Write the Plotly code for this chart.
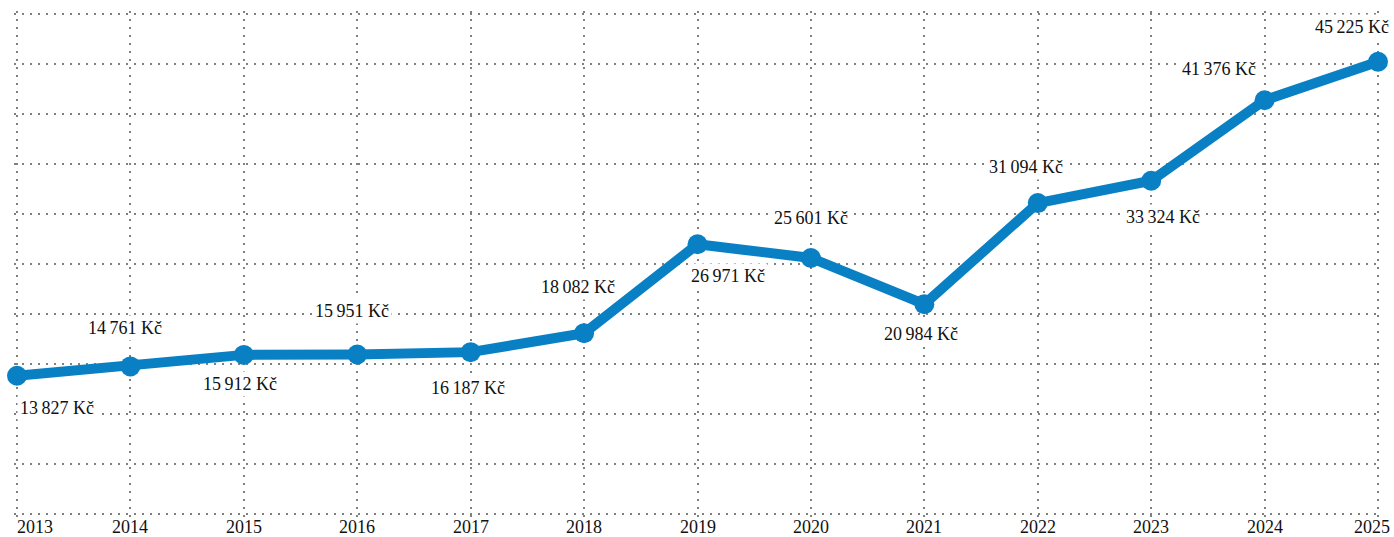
import plotly.graph_objects as go

years = [2013, 2014, 2015, 2016, 2017, 2018, 2019, 2020, 2021, 2022, 2023, 2024, 2025]
values = [13827, 14761, 15912, 15951, 16187, 18082, 26971, 25601, 20984, 31094, 33324, 41376, 45225]

# label placement offsets (pixels) relative to each point
label_dx = [40, -5, -4, -5, -3, -6, 30, 0, -3, -12, 12, -46, -26]
label_dy = [32, -38, 29, -43, 36, -46, 32, -40, 30, -36, 36, -31, -35]

def fmt(v):
    s = f"{v:,}".replace(",", "\u2009")
    return s + " Kč"

FONT = "Liberation Serif, DejaVu Serif, serif"
BLUE = "#0a80c4"

fig = go.Figure()
fig.add_trace(go.Scatter(
    x=years, y=values, mode="lines+markers",
    line=dict(color=BLUE, width=10),
    marker=dict(color=BLUE, size=20),
    cliponaxis=False, hoverinfo="skip",
))

for x, v, dx, dy in zip(years, values, label_dx, label_dy):
    fig.add_annotation(x=x, y=v, text=fmt(v), showarrow=False,
                       xshift=dx, yshift=-dy, bgcolor="white", borderpad=2,
                       font=dict(family=FONT, size=18, color="#111"))

for i, yr in enumerate(years):
    anchor = "center"
    if i == 0:
        anchor = "left"
    elif i == len(years) - 1:
        anchor = "right"
    xs = -2 if i == 0 else (14 if i == len(years) - 1 else 0)
    fig.add_annotation(x=yr, y=0, xref="x", yref="paper", text=str(yr),
                       showarrow=False, xanchor=anchor, yanchor="top",
                       xshift=xs, yshift=2,
                       font=dict(family=FONT, size=18, color="#111"))

# pad the axes by 3 px so the edge grid lines are drawn
PAD = 3
x0, x1 = 2013, 2025
y0, y1 = 0, 50000
px_w = 1394 - 17 - 16
px_h = 537 - 14 - 23
ex = (x1 - x0) / px_w * PAD
ey = (y1 - y0) / px_h * PAD

grid = dict(showgrid=True, gridcolor="#808080", gridwidth=2, griddash="2px,6px",
            zeroline=False, showline=False, showticklabels=False, ticks="")
fig.update_xaxes(range=[x0 - ex, x1 + ex], tickmode="linear", tick0=2013, dtick=1, **grid)
fig.update_yaxes(range=[y0 - ey, y1 + ey], tickmode="linear", tick0=0, dtick=5000, **grid)

fig.update_layout(
    width=1394, height=537,
    margin=dict(l=17 - PAD, r=16 - PAD, t=14 - PAD, b=23 - PAD),
    plot_bgcolor="white", paper_bgcolor="white",
    showlegend=False,
)
fig.write_html("out.html", config={"displayModeBar": False},
               post_script="document.body.style.margin='0';document.body.style.padding='0';")
